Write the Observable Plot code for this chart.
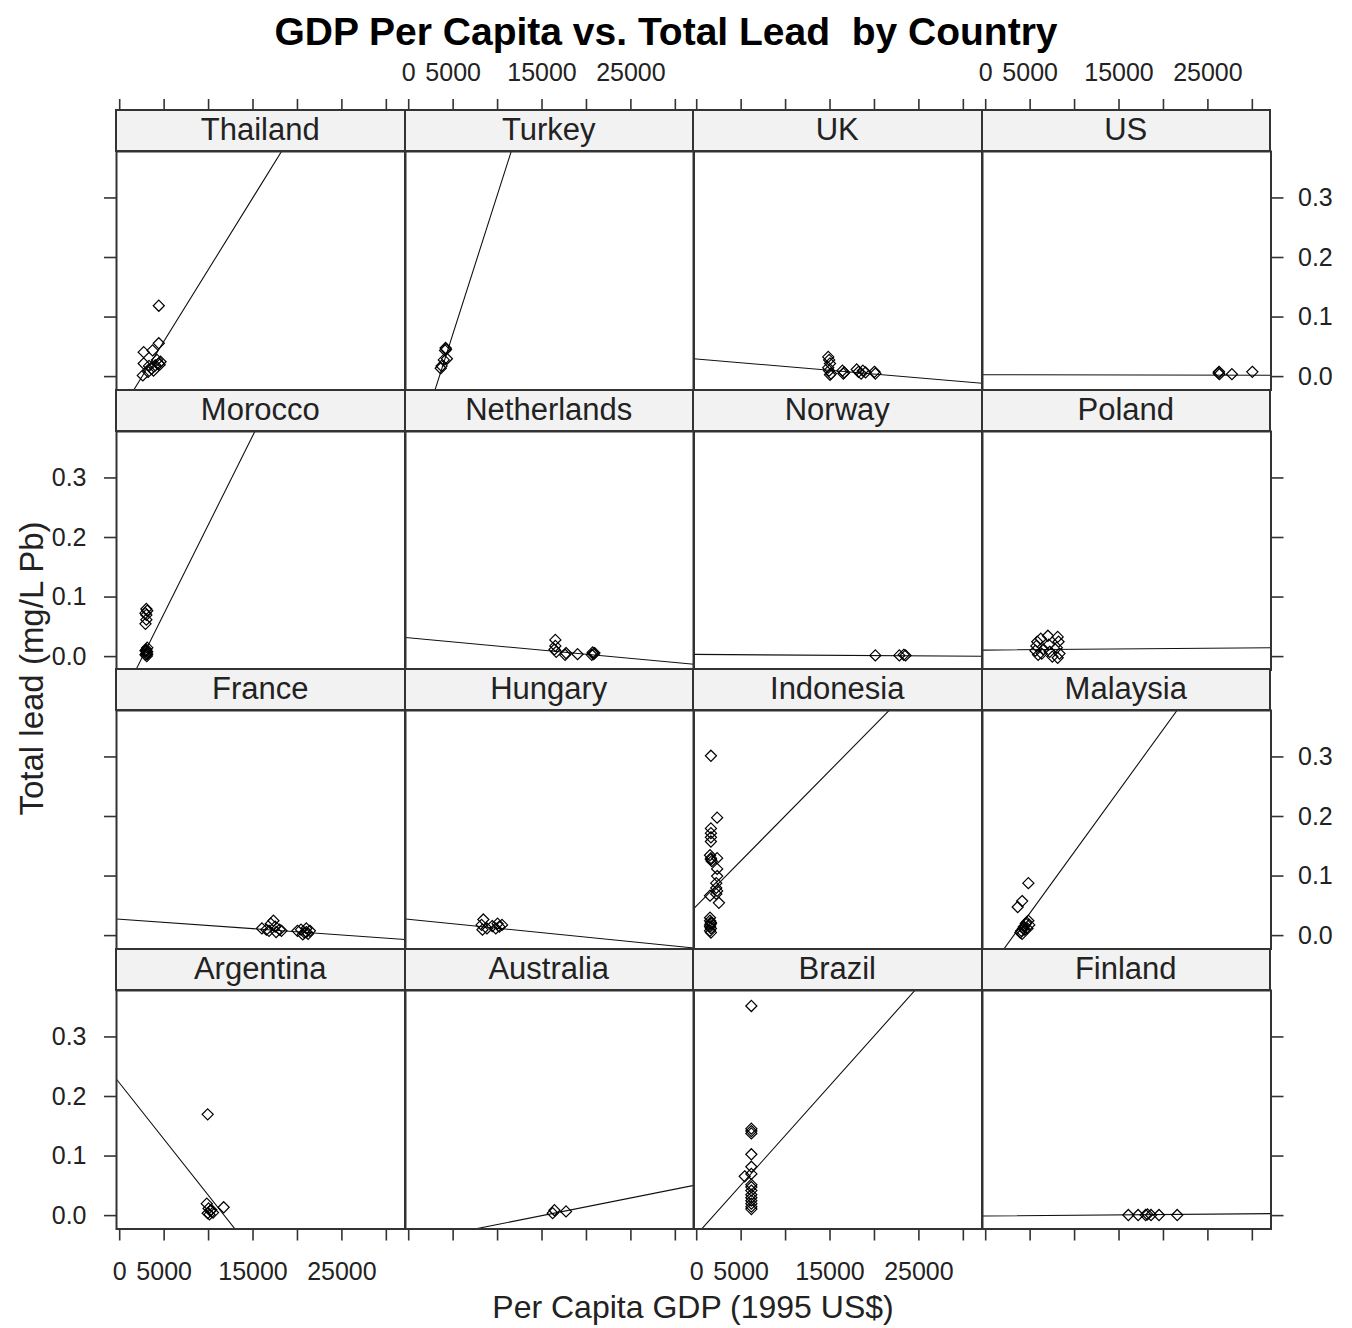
<!DOCTYPE html>
<html><head><meta charset="utf-8">
<script src="https://cdn.jsdelivr.net/npm/d3@7"></script>
<script src="https://cdn.jsdelivr.net/npm/@observablehq/plot@0.6"></script>
<style>
body{margin:0;background:#fff;}
#fig{position:relative;width:1352px;height:1328px;overflow:hidden;font-family:"Liberation Sans",Arial,sans-serif;color:#222;}
#fig svg{position:absolute;}
.strip{position:absolute;box-sizing:border-box;background:#f2f2f2;border:2px solid #333;text-align:center;font-size:31px;line-height:38px;color:#222;}
.title{position:absolute;left:0;width:1332px;top:12px;text-align:center;font-weight:bold;font-size:39px;line-height:39px;color:#000;}
.xlab{position:absolute;left:293px;width:800px;top:1291px;text-align:center;font-size:32px;line-height:32px;}
.ylab{position:absolute;left:-169.5px;width:400px;top:651.5px;height:33px;text-align:center;font-size:33px;line-height:33px;transform:rotate(-90deg);}
</style>
</head><body>
<div id="fig">
  <div class="title">GDP Per Capita vs. Total Lead&nbsp; by Country</div>
  <div class="xlab">Per Capita GDP (1995 US$)</div>
  <div class="ylab">Total lead (mg/L Pb)</div>
</div>
<script>
// Panel order (lattice): left-to-right, bottom-to-top
const countries = ["Argentina","Australia","Brazil","Finland","France","Hungary","Indonesia","Malaysia","Morocco","Netherlands","Norway","Poland","Thailand","Turkey","UK","US"];

const Argentina_gdp = [9900, 9800, 10000, 10200, 10500, 9900, 10300, 11700, 10100];
const Argentina_lead = [0.170, 0.020, 0.012, 0.008, 0.005, 0.004, 0.010, 0.014, 0.002];
const Australia_gdp = [16200, 16400, 17700];
const Australia_lead = [0.004, 0.009, 0.007];
const Brazil_gdp = [6150, 6150, 6150, 6150, 6150, 6150, 5400, 6150, 6150, 6150, 6150, 6150, 6150, 6150, 6150, 6150, 6150];
const Brazil_lead = [0.352, 0.146, 0.142, 0.138, 0.103, 0.082, 0.066, 0.070, 0.052, 0.048, 0.042, 0.035, 0.030, 0.025, 0.020, 0.015, 0.011];
const Finland_gdp = [16050, 17150, 18000, 18600, 19500, 21550, 18200];
const Finland_lead = [0.001, 0.001, 0.001, 0.001, 0.001, 0.001, 0.002];
const France_gdp = [16000, 16500, 17000, 17300, 17500, 18000, 18200, 16800, 17600, 20000, 20400, 20800, 21000, 21200, 21400, 20600, 21000];
const France_lead = [0.012, 0.010, 0.020, 0.025, 0.015, 0.010, 0.008, 0.008, 0.006, 0.008, 0.010, 0.005, 0.012, 0.003, 0.008, 0.002, 0.006];
const Hungary_gdp = [8400, 8200, 8800, 8300, 9400, 10000, 10200, 10500, 9800];
const Hungary_lead = [0.027, 0.018, 0.012, 0.010, 0.016, 0.020, 0.015, 0.018, 0.012];
const Indonesia_gdp = [1600, 2300, 1600, 1600, 1600, 1600, 1500, 1600, 1700, 1600, 2300, 2300, 2300, 2200, 2200, 2300, 2200, 1500, 2500, 1500, 1500, 1600, 1500, 1600, 1500, 1600, 1500, 1600];
const Indonesia_lead = [0.302, 0.198, 0.180, 0.172, 0.165, 0.158, 0.135, 0.130, 0.125, 0.128, 0.130, 0.112, 0.100, 0.088, 0.080, 0.075, 0.070, 0.067, 0.055, 0.030, 0.025, 0.020, 0.015, 0.012, 0.008, 0.005, 0.018, 0.022];
const Malaysia_gdp = [4800, 4100, 3600, 4200, 4000, 3900, 4300, 4500, 4800, 4900, 4400, 4100, 4600, 4700];
const Malaysia_lead = [0.088, 0.058, 0.048, 0.012, 0.008, 0.005, 0.015, 0.020, 0.025, 0.018, 0.010, 0.003, 0.022, 0.012];
const Morocco_gdp = [3000, 3100, 2900, 3000, 3000, 2900, 3100, 3000, 2900, 3100, 3000, 2900, 3050, 3000, 3100];
const Morocco_lead = [0.080, 0.077, 0.073, 0.070, 0.062, 0.055, 0.015, 0.012, 0.010, 0.008, 0.005, 0.003, 0.001, 0.009, 0.004];
const Netherlands_gdp = [16500, 16500, 16400, 16600, 17700, 17600, 19000, 20700, 20800, 20900, 20600];
const Netherlands_lead = [0.028, 0.018, 0.012, 0.008, 0.006, 0.003, 0.004, 0.007, 0.004, 0.006, 0.003];
const Norway_gdp = [20100, 22800, 23500, 23300];
const Norway_lead = [0.002, 0.002, 0.002, 0.003];
const Poland_gdp = [5600, 5700, 5800, 6200, 6300, 6500, 7000, 7100, 7200, 7500, 8100, 8200, 8000, 8300, 8100, 5900];
const Poland_lead = [0.010, 0.018, 0.025, 0.030, 0.005, 0.012, 0.035, 0.020, 0.008, 0.000, 0.033, 0.025, 0.015, 0.005, -0.002, 0.003];
const Thailand_gdp = [4400, 2700, 3700, 4400, 2700, 3300, 3600, 4000, 4400, 4600, 4200, 3200, 2600, 3800, 4500];
const Thailand_lead = [0.119, 0.041, 0.044, 0.056, 0.022, 0.018, 0.013, 0.019, 0.022, 0.025, 0.028, 0.008, 0.002, 0.010, 0.020];
const Turkey_gdp = [4150, 4200, 4100, 3950, 4300, 3700, 3600];
const Turkey_lead = [0.048, 0.046, 0.044, 0.028, 0.030, 0.018, 0.014];
const UK_gdp = [14800, 14900, 15000, 14800, 14900, 15100, 15000, 16400, 16500, 16600, 18000, 18200, 18500, 18700, 19000, 20000, 20100];
const UK_lead = [0.033, 0.028, 0.022, 0.015, 0.010, 0.005, 0.003, 0.010, 0.005, 0.007, 0.012, 0.008, 0.005, 0.010, 0.007, 0.008, 0.005];
const US_gdp = [26200, 26300, 26250, 27700, 30000];
const US_lead = [0.006, 0.004, 0.008, 0.004, 0.008];

const gdpByPanel = [Argentina_gdp, Australia_gdp, Brazil_gdp, Finland_gdp, France_gdp, Hungary_gdp, Indonesia_gdp, Malaysia_gdp, Morocco_gdp, Netherlands_gdp, Norway_gdp, Poland_gdp, Thailand_gdp, Turkey_gdp, UK_gdp, US_gdp];
const leadByPanel = [Argentina_lead, Australia_lead, Brazil_lead, Finland_lead, France_lead, Hungary_lead, Indonesia_lead, Malaysia_lead, Morocco_lead, Netherlands_lead, Norway_lead, Poland_lead, Thailand_lead, Turkey_lead, UK_lead, US_lead];

// Per-country least-squares line: lead = intercept + slope * GDP
const fitIntercept = [0.2222, -0.0446, -0.0318, -0.0006, 0.0276, 0.0274, 0.0503, -0.0646, -0.0769, 0.0315, 0.0037, 0.0110, -0.0605, -0.1607, 0.0295, 0.0032];
const fitSlope = [-1.886e-5, 2.971e-6, 1.67e-5, 1.2e-7, -1.063e-6, -1.505e-6, 1.514e-5, 2.057e-5, 2.992e-5, -1.382e-6, -1.0e-7, 1.23e-7, 2.409e-5, 4.671e-5, -1.263e-6, -3e-8];

const xTicks = [0, 5000, 10000, 15000, 20000, 25000, 30000];
const xTickLabels = ["0", "5000", "", "15000", "", "25000", ""];
const yTicks = [0, 0.1, 0.2, 0.3];
const yTickLabels = ["0.0", "0.1", "0.2", "0.3"];

const xDomain = [-360, 32100];
const yDomain = [-0.0225, 0.378];

// layout
const colLeft = c => 116 + c * 288.5;
const rowTop = r => 110 + r * 279.5;   // r = 0 is top row
const panelW = 288.5, panelH = 238.5, stripH = 41, M = 90;

const fig = document.getElementById("fig");
const xFmt = d => xTickLabels[xTicks.indexOf(d)];
const yFmt = d => yTickLabels[yTicks.findIndex(t => Math.abs(t - d) < 1e-9)];
const blank = () => "";

countries.forEach((name, i) => {
  const c = i % 4;
  const r = 3 - Math.floor(i / 4);
  const pts = gdpByPanel[i].map((g, k) => ({gdp: g, lead: leadByPanel[i][k]}));
  const fit = xDomain.map(x => ({x, y: fitIntercept[i] + fitSlope[i] * x}));
  const marks = [];
  if (r === 0) marks.push(Plot.axisX(xTicks, {anchor: "top", tickSize: 12, tickPadding: 18, dy: -stripH, tickFormat: (c === 1 || c === 3) ? xFmt : blank, label: null, stroke: "#333", strokeWidth: 1.6}));
  if (r === 3) marks.push(Plot.axisX(xTicks, {anchor: "bottom", tickSize: 12, tickPadding: 21, tickFormat: (c === 0 || c === 2) ? xFmt : blank, label: null, stroke: "#333", strokeWidth: 1.6}));
  if (c === 0) marks.push(Plot.axisY(yTicks, {anchor: "left", tickSize: 12, tickPadding: 18, tickFormat: (r === 1 || r === 3) ? yFmt : blank, label: null, stroke: "#333", strokeWidth: 1.6}));
  if (c === 3) marks.push(Plot.axisY(yTicks, {anchor: "right", tickSize: 12, tickPadding: 15, tickFormat: (r === 0 || r === 2) ? yFmt : blank, label: null, stroke: "#333", strokeWidth: 1.6}));
  marks.push(
    Plot.line(fit, {x: "x", y: "y", stroke: "#111", strokeWidth: 1.1, clip: true}),
    Plot.dot(pts, {x: "gdp", y: "lead", symbol: "diamond2", r: 5, stroke: "#000", strokeWidth: 1.2}),
    Plot.frame({stroke: "#333", strokeWidth: 2})
  );
  const svg = Plot.plot({
    width: panelW + 2 * M,
    height: panelH + 2 * M,
    marginLeft: M, marginRight: M, marginTop: M, marginBottom: M,
    x: {domain: xDomain, axis: null},
    y: {domain: yDomain, axis: null},
    style: "background:transparent;overflow:visible;font-family:'Liberation Sans',Arial,sans-serif;font-size:25px;color:#222;max-width:none;",
    marks
  });
  svg.style.left = (colLeft(c) - M) + "px";
  svg.style.top = (rowTop(r) + stripH - M) + "px";
  fig.appendChild(svg);
});

countries.forEach((name, i) => {
  const c = i % 4;
  const r = 3 - Math.floor(i / 4);
  const s = document.createElement("div");
  s.className = "strip";
  s.style.left = (colLeft(c) - 1) + "px";
  s.style.top = (rowTop(r) - 1) + "px";
  s.style.width = (panelW + 2) + "px";
  s.style.height = (stripH + 2) + "px";
  s.textContent = name;
  fig.appendChild(s);
});
</script>
</body></html>
